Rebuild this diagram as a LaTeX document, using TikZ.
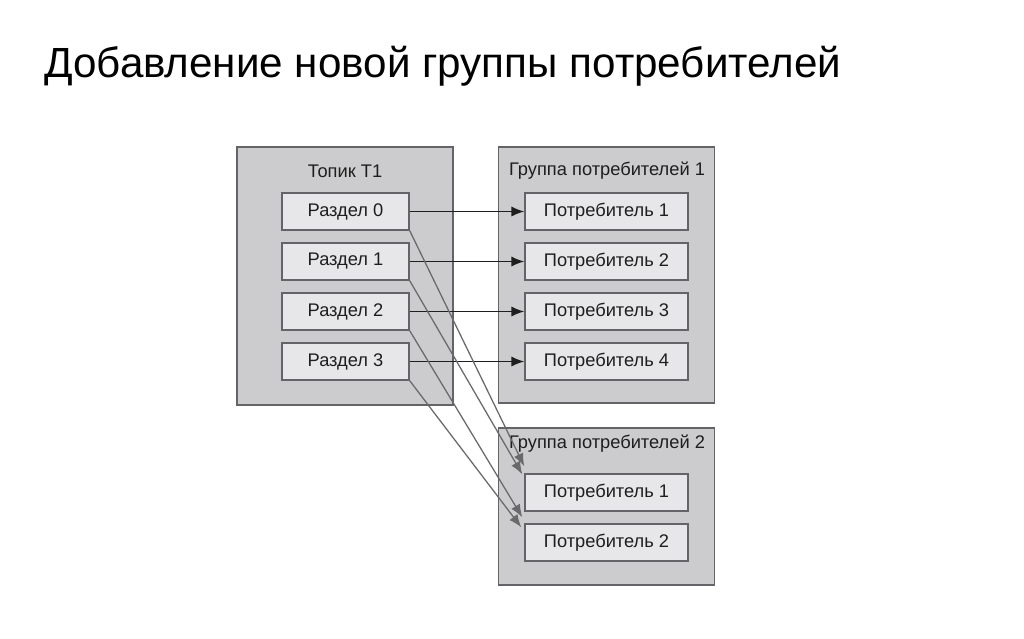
\documentclass[tikz,border=0pt]{standalone}
\usepackage{fontspec}
\setmainfont{Liberation Sans}
\usetikzlibrary{arrows.meta, calc}
\definecolor{GrpFill}{RGB}{204, 204, 206}
\definecolor{BoxFill}{RGB}{231, 231, 233}
\definecolor{EdgeGray}{RGB}{100, 100, 104}
\definecolor{InkDark}{RGB}{30, 30, 30}
\definecolor{LinkGray}{RGB}{105, 105, 108}

\begin{document}
\begin{tikzpicture}[x=0.025cm, y=-0.025cm,
  grp/.style={draw=EdgeGray, fill=GrpFill, line width=1.2pt,
    minimum width=5.4cm, inner sep=0pt},
  part/.style={draw=EdgeGray, fill=BoxFill, line width=1pt,
    minimum width=3.175cm, minimum height=0.925cm,
    font=\fontsize{13pt}{15pt}\selectfont\color{InkDark}},
  cons/.style={part, minimum width=4.075cm},
  hdr/.style={font=\fontsize{13pt}{15pt}\selectfont\color{InkDark}},
  arr/.style={-{Latex[length=3.2mm, width=2.5mm]}, InkDark, line width=0.9pt},
  darr/.style={-{Latex[length=3.2mm, width=2.5mm]}, LinkGray, line width=0.9pt}
]
\useasboundingbox (0,0) rectangle (1024,638);

\node[anchor=base west, inner sep=0pt, font=\fontsize{30pt}{35pt}\selectfont] (title) at (44,77) {Добавление новой группы потребителей};

% containers
\node[grp, minimum height=6.45cm] (topic) at (345,276) {};
\node[grp, minimum height=6.4cm] (grp1) at (606.5,275) {};
\node[grp, minimum height=3.925cm] (grp2) at (606.5,506.5) {};

\node[hdr] (topicT) at (345,171) {Топик Т1};
\node[hdr] (grp1T) at (607,171) {Группа потребителей 1};
\node[hdr] (grp2T) at (607,444) {Группа потребителей 2};

% partitions
\node[part] (p0) at (345.5,211.5) {Раздел 0};
\node[part] (p1) at (345.5,261.5) {Раздел 1};
\node[part] (p2) at (345.5,311.5) {Раздел 2};
\node[part] (p3) at (345.5,361.5) {Раздел 3};

% consumers
\node[cons] (c1) at (606.5,211.5) {Потребитель 1};
\node[cons] (c2) at (606.5,261.5) {Потребитель 2};
\node[cons] (c3) at (606.5,311.5) {Потребитель 3};
\node[cons] (c4) at (606.5,361.5) {Потребитель 4};
\node[cons] (d1) at (606.5,492.5) {Потребитель 1};
\node[cons] (d2) at (606.5,542.5) {Потребитель 2};

\draw[arr] (p0) -- (c1);
\draw[arr] (p1) -- (c2);
\draw[arr] (p2) -- (c3);
\draw[arr] (p3) -- (c4);

\draw[darr] (p0.south east) -- ($(d1.north west)+(0,-7)$);
\draw[darr] (p1.south east) -- ($(d1.north west)+(-2,1)$);
\draw[darr] (p2.south east) -- ($(d2.north west)+(-2,-6)$);
\draw[darr] (p3.south east) -- ($(d2.north west)+(-3,4)$);
\end{tikzpicture}
\end{document}
